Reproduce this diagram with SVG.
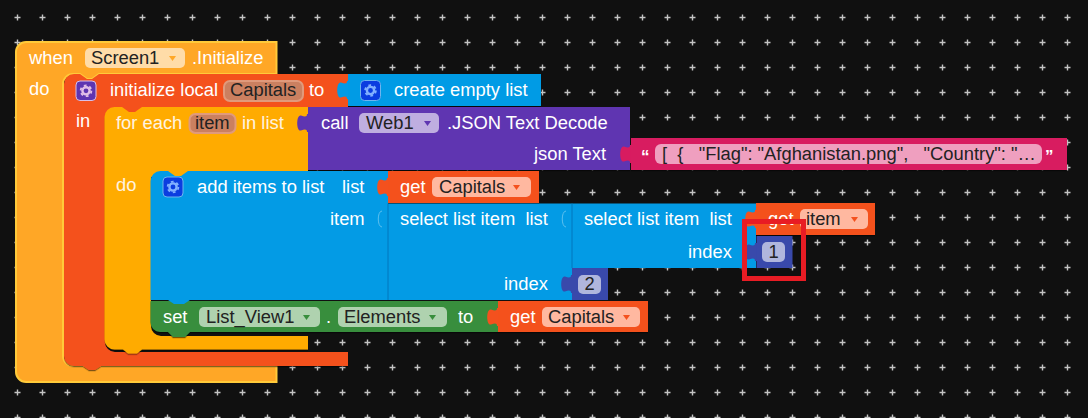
<svg xmlns="http://www.w3.org/2000/svg" width="1088" height="418" viewBox="0 0 1088 418">
<style>
text{font-family:"Liberation Sans",Arial,sans-serif;font-size:18.35px;fill:#fff;white-space:pre}
text.f{fill:#222}
text.lt{fill:#fff3e0}
.edge{filter:url(#sh)}
.when{fill:#ffa726;stroke:#ffca3a;stroke-width:2}
.red{fill:#f4511e}
.amber{fill:#ffab00}
.blue{fill:#039be5}
.purple{fill:#5e35b1}
.pink{fill:#d81b60}
.green{fill:#388e3c}
.indigo{fill:#3949ab}
.line{stroke:#0277bd;stroke-width:1;fill:none}
.fr{fill:#ffb8a0}.fy{fill:#ffdca8}.fp{fill:#bfaee0}.fg{fill:#afd2af}.fk{fill:#ef9fbf}.fi{fill:#b0b6dd}
.fv{fill:#cb8060;stroke:#e09a7c;stroke-width:2}
.ar{fill:#f4511e}
</style>
<defs>
<pattern id="grid" x="0" y="0" width="25" height="25" patternUnits="userSpaceOnUse" patternTransform="translate(5 5)">
<path d="M12.5 9.5v6M9.5 12.5h6" stroke="#c4c4c4" stroke-width="1.4" fill="none"/>
</pattern>
<filter id="sh" x="-5%" y="-5%" width="110%" height="110%"><feDropShadow dx="0" dy="1.2" stdDeviation="0.3" flood-color="#000" flood-opacity="0.5"/></filter>
<path id="tab" d="M1,-1 L-1,-1 C-1,2 -3,2 -7,0.500 C-12,-1 -12,17 -7,15.500 C-3,14 -1,14 -1,17 L1,17 Z"/>
<path id="tabline" d="M-6,0 C-11,0 -11,16 -6,16" fill="none" stroke="#5cc0ef" stroke-width="1"/>
<g id="gear" fill="none">
<circle r="3.600" stroke="currentColor" stroke-width="2.400"/>
<circle r="5.400" stroke="currentColor" stroke-width="1.800" stroke-dasharray="2.800 2.850"/>
</g>
</defs>
<rect width="1088" height="418" fill="#101010"/>
<rect width="1088" height="418" fill="url(#grid)"/>

<g id="when-block">
<path class="when" d="M16,52 a10,10 0 0 1 10,-10 H276.500 V74 H99 l-7,5 h-5 l-7,-5 H73 a10,10 0 0 0 -10,10 V356 a10,10 0 0 0 10,10 H276.500 V382 H26 a10,10 0 0 1 -10,-10 Z"/>
<text x="29" y="64">when</text>
<rect class="fy" x="85" y="48" width="100" height="20" rx="5"/>
<text class="f" x="91" y="64">Screen1</text>
<path d="M169,56h7l-3.500,5z" fill="#ffa726"/>
<text x="192" y="64">.Initialize</text>
<text x="29" y="95">do</text>
</g>

<g id="local-block">
<path class="red edge" d="M64,84 a10,10 0 0 1 10,-10 h6 l7,5 h5 l7,-5 H348 V114 H105 V342 a10,10 0 0 0 10,10 H348 V366 H101 l-6,4 h-6 l-6,-4 H74 a10,10 0 0 1 -10,-10 Z"/>
<rect x="76" y="81" width="20" height="19.500" rx="4" fill="#5e35b1" stroke="#d8bfe8" stroke-width="1"/>
<use href="#gear" x="86" y="90.800" color="#e1bee7"/>
<text x="110" y="96">initialize local</text>
<rect class="fv" x="224" y="81" width="79" height="20" rx="6"/>
<text class="f" x="230" y="96">Capitals</text>
<text x="309" y="96">to</text>
<text x="76" y="127">in</text>
</g>

<g id="create-list-block">
<use href="#tab" x="348" y="82" class="blue"/>
<rect class="blue edge" x="348" y="74" width="193" height="32"/>
<rect x="360.500" y="80.500" width="20" height="20" rx="4" fill="#0b3de0" stroke="#6db5ee" stroke-width="1"/>
<use href="#gear" x="370.500" y="90.500" color="#82b1ff"/>
<text x="394" y="96">create empty list</text>
</g>

<g id="foreach-block">
<path class="amber edge" d="M104.500,117 a10,10 0 0 1 10,-10 h7.500 l7,5 h6 l7,-5 H308 V177 H151 V326 a10,10 0 0 0 10,10 H308 V349.500 H142 l-5,4 h-9 l-5,-4 H114.500 a10,10 0 0 1 -10,-10 Z"/>
<rect class="fv" x="189.500" y="114" width="46" height="19" rx="6"/>
<text x="116" y="128.500" class="lt">for each</text>
<text class="f" x="195" y="129">item</text>
<text x="242" y="128.500" class="lt">in list</text>
<text x="116" y="191" class="lt">do</text>
</g>

<g id="call-block">
<use href="#tab" x="308" y="115" class="purple"/>
<rect class="purple edge" x="308" y="107" width="322" height="63"/>
<text x="321" y="129">call</text>
<rect class="fp" x="359" y="113" width="80" height="20" rx="5"/>
<text class="f" x="366" y="129">Web1</text>
<path d="M424,121h7l-3.500,5z" fill="#5e35b1"/>
<text x="447" y="129">.JSON Text Decode</text>
<text x="534" y="160">json Text</text>
</g>

<g id="string-block">
<use href="#tab" x="631" y="146" class="pink"/>
<rect class="pink edge" x="631" y="138" width="436" height="32"/>
<text x="641" y="162" style="font-size:17px;font-weight:bold">“</text>
<rect class="fk" x="655" y="144" width="387" height="20" rx="6"/>
<text class="f" x="662" y="160">[  {   "Flag": "Afghanistan.png",   "Country": "…</text>
<text x="1045" y="162" style="font-size:17px;font-weight:bold">”</text>
</g>

<g id="set-block">
<path class="green edge" d="M150.500,301 H498 V332 H190 l-5,5 h-12 l-5,-5 H160 a10,10 0 0 1 -9.500,-10 Z"/>
<text x="163" y="323">set</text>
<rect class="fg" x="199" y="307" width="121" height="20" rx="5"/>
<text class="f" x="206" y="323">List_View1</text>
<path d="M303,315h7l-3.500,5z" fill="#388e3c"/>
<text x="326" y="323">.</text>
<rect class="fg" x="338" y="307" width="109" height="20" rx="5"/>
<text class="f" x="344" y="323">Elements</text>
<path d="M429,315h7l-3.500,5z" fill="#388e3c"/>
<text x="458" y="323">to</text>
</g>

<g id="get-capitals-2">
<use href="#tab" x="498" y="309" class="red"/>
<rect class="red edge" x="498" y="301" width="150" height="31"/>
<text x="510" y="323">get</text>
<rect class="fr" x="542" y="307" width="98" height="20" rx="5"/>
<text class="f" x="548" y="323">Capitals</text>
<path d="M623,315h7l-3.500,5z" class="ar"/>
</g>

<g id="add-items-block">
<path class="blue" d="M150.500,181 a10,10 0 0 1 10,-10 h7.500 l7,5 h6 l7,-5 H388 V300 H190 l-6,4 h-10 l-6,-4 H150.500 Z"/>
<rect x="163" y="177" width="20" height="20" rx="4" fill="#0b3de0" stroke="#6db5ee" stroke-width="1"/>
<use href="#gear" x="173" y="187" color="#82b1ff"/>
<text x="197" y="193">add items to list</text>
<text x="342" y="193">list</text>
<text x="330" y="225">item</text>
</g>

<g id="get-capitals-1">
<use href="#tab" x="388" y="179" class="red"/>
<rect class="red edge" x="388" y="171" width="151" height="32"/>
<text x="400" y="193">get</text>
<rect class="fr" x="432" y="177" width="99" height="20" rx="5"/>
<text class="f" x="439" y="193">Capitals</text>
<path d="M513,185h7l-3.500,5z" class="ar"/>
</g>

<g id="select-outer">
<rect class="blue" x="388" y="203.500" width="184" height="96.500"/>
<path class="line" d="M388,203.500V300"/>
<use href="#tabline" x="388" y="211"/>
<text x="400" y="225">select list item  list</text>
<text x="504" y="290">index</text>
</g>

<g id="select-inner">
<rect class="blue" x="572" y="203.500" width="184" height="64.500"/>
<path class="line" d="M572,203.500V268"/>
<use href="#tabline" x="572" y="211"/>
<text x="584" y="225">select list item  list</text>
<text x="688" y="258">index</text>
</g>

<g id="number-2">
<use href="#tab" x="572" y="276" class="indigo"/>
<rect class="indigo" x="572" y="268" width="36" height="32"/>
<rect class="fi" x="578" y="275" width="23" height="19" rx="5"/>
<text class="f" x="584.500" y="290">2</text>
</g>

<g id="get-item">
<use href="#tab" x="756" y="211" class="red"/>
<rect class="red edge" x="756" y="203" width="119" height="32"/>
<text x="768" y="225">get</text>
<rect class="fr" x="800" y="209" width="68" height="20" rx="5"/>
<text class="f" x="806" y="225">item</text>
<path d="M851,217h7l-3.500,5z" class="ar"/>
</g>

<g id="number-1">
<use href="#tab" x="756" y="244" class="indigo"/>
<rect class="indigo" x="756.500" y="236" width="36" height="32"/>
<rect class="fi" x="762" y="242" width="23" height="20" rx="5"/>
<text class="f" x="768.500" y="258">1</text>
</g>

<rect id="highlight" x="744.500" y="221.500" width="59" height="57" fill="none" stroke="#e81c24" stroke-width="5"/>
</svg>
